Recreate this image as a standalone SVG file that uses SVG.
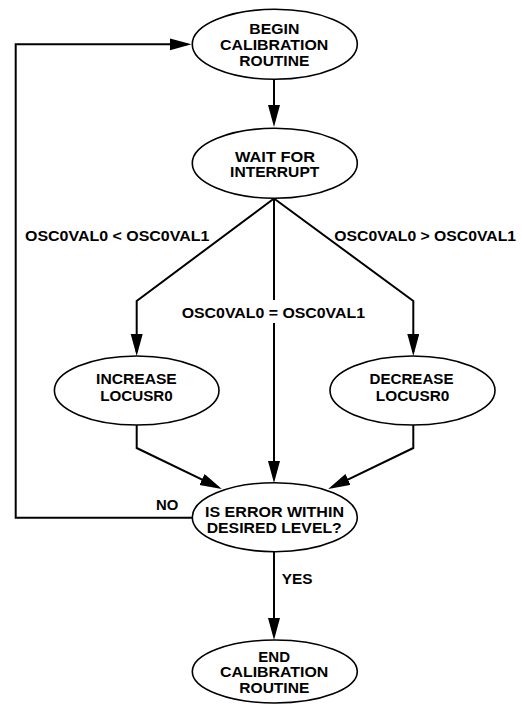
<svg xmlns="http://www.w3.org/2000/svg" width="522" height="704" viewBox="0 0 522 704">
<defs>
<style>
.n ellipse{fill:#fff;stroke:#000;stroke-width:1.6}
text{font-family:"Liberation Sans",Arial,sans-serif;font-weight:bold;font-size:14px;fill:#000}
.c{text-anchor:middle}
.e path{fill:none;stroke:#000;stroke-width:2}
</style>
<marker id="ah" markerUnits="userSpaceOnUse" markerWidth="24" markerHeight="14" refX="18" refY="6" orient="auto">
<path d="M0,0 L22,6 L0,12 z" fill="#000"/>
</marker>
</defs>
<rect width="522" height="704" fill="#fff"/>
<g id="connectors" class="e">
<path d="M274,79.5 L274,123" marker-end="url(#ah)"/>
<path d="M274,198.5 L136.7,301 L136.7,352" marker-end="url(#ah)"/>
<path d="M274,198.5 L413.3,301 L413.3,352" marker-end="url(#ah)"/>
<path d="M274,198.5 L274,300"/>
<path d="M274,323 L274,479" marker-end="url(#ah)"/>
<path d="M136.7,425 L136.7,448 L218.2,487.3" marker-end="url(#ah)"/>
<path d="M413.3,425 L413.3,448 L331.8,487.3" marker-end="url(#ah)"/>
<path d="M274,551.7 L274,636" marker-end="url(#ah)"/>
<path d="M192.5,517.7 L15.7,517.7 L15.7,44.3 L187.5,44.3" marker-end="url(#ah)"/>
</g>
<g id="labels">
<text x="25" y="240.7" textLength="184.3" lengthAdjust="spacingAndGlyphs">OSC0VAL0 &lt; OSC0VAL1</text>
<text x="334.3" y="240.7" textLength="181.7" lengthAdjust="spacingAndGlyphs">OSC0VAL0 &gt; OSC0VAL1</text>
<text x="181.7" y="318.3" textLength="183.3" lengthAdjust="spacingAndGlyphs">OSC0VAL0 = OSC0VAL1</text>
<text x="156" y="510" textLength="22.3" lengthAdjust="spacingAndGlyphs">NO</text>
<text x="281.7" y="584" textLength="30.7" lengthAdjust="spacingAndGlyphs">YES</text>
</g>
<g id="begin" class="n">
<ellipse cx="274.8" cy="44.3" rx="82.5" ry="35"/>
<text class="c" x="274.3" y="34.3" textLength="50" lengthAdjust="spacingAndGlyphs">BEGIN</text>
<text class="c" x="274.2" y="50" textLength="108.3" lengthAdjust="spacingAndGlyphs">CALIBRATION</text>
<text class="c" x="274.3" y="66" textLength="70" lengthAdjust="spacingAndGlyphs">ROUTINE</text>
</g>
<g id="wait" class="n">
<ellipse cx="274.8" cy="163.3" rx="82.5" ry="35"/>
<text class="c" x="275" y="161.7" textLength="80" lengthAdjust="spacingAndGlyphs">WAIT FOR</text>
<text class="c" x="274.7" y="177.3" textLength="89.3" lengthAdjust="spacingAndGlyphs">INTERRUPT</text>
</g>
<g id="increase" class="n">
<ellipse cx="136.7" cy="390.5" rx="82.3" ry="34.5"/>
<text class="c" x="136.4" y="384.3" textLength="80.7" lengthAdjust="spacingAndGlyphs">INCREASE</text>
<text class="c" x="136.5" y="400.7" textLength="72.5" lengthAdjust="spacingAndGlyphs">LOCUSR0</text>
</g>
<g id="decrease" class="n">
<ellipse cx="412.5" cy="390.5" rx="82.5" ry="34.5"/>
<text class="c" x="411.5" y="384.3" textLength="84" lengthAdjust="spacingAndGlyphs">DECREASE</text>
<text class="c" x="412.6" y="400.7" textLength="73.5" lengthAdjust="spacingAndGlyphs">LOCUSR0</text>
</g>
<g id="error" class="n">
<ellipse cx="274.8" cy="517.2" rx="82.5" ry="34.5"/>
<text class="c" x="274.5" y="517.3" textLength="139" lengthAdjust="spacingAndGlyphs">IS ERROR WITHIN</text>
<text class="c" x="274.2" y="532.7" textLength="135" lengthAdjust="spacingAndGlyphs">DESIRED LEVEL?</text>
</g>
<g id="end" class="n">
<ellipse cx="274.8" cy="671.5" rx="82.5" ry="31.5"/>
<text class="c" x="274.2" y="661.7" textLength="31.7" lengthAdjust="spacingAndGlyphs">END</text>
<text class="c" x="274.2" y="677.3" textLength="108.3" lengthAdjust="spacingAndGlyphs">CALIBRATION</text>
<text class="c" x="274.3" y="693.3" textLength="70" lengthAdjust="spacingAndGlyphs">ROUTINE</text>
</g>
</svg>
